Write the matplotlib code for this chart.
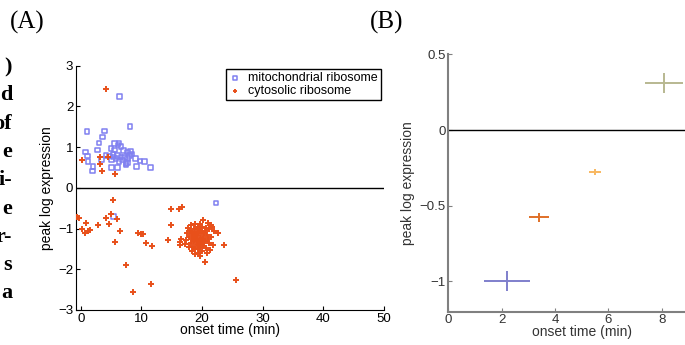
import matplotlib
matplotlib.use('Agg')
import matplotlib.pyplot as plt

plt.rcParams['font.family'] = ['Liberation Sans', 'DejaVu Sans']

# panel A: mitochondrial ribosome genes (onset time, peak log expression)
mito_x = [6.35, 8.1, 1.0, 3.9, 3.6, 3.0, 5.6, 6.3, 6.1, 2.7, 0.8, 1.1, 1.2, 2.0, 1.95, 3.4,
          4.15, 4.7, 5.1, 5.8, 6.3, 6.9, 7.45, 8.0, 8.4, 9.0, 9.75, 10.5, 9.2, 11.45, 5.1, 6.0,
          7.45, 7.7, 5.0, 5.5, 6.6, 7.05, 7.7, 8.2, 5.3, 6.0, 6.6, 7.2, 5.4, 7.7, 5.4, 22.3]
mito_y = [2.24, 1.51, 1.38, 1.40, 1.25, 1.10, 1.09, 1.10, 1.05, 0.93, 0.88, 0.78, 0.65, 0.52, 0.41, 0.70,
          0.80, 0.78, 0.68, 0.72, 0.64, 0.68, 0.60, 0.80, 0.83, 0.72, 0.66, 0.64, 0.53, 0.50, 0.50, 0.50,
          0.56, 0.62, 0.97, 0.93, 1.01, 0.91, 0.88, 0.90, 0.82, 0.80, 0.76, 0.74, 0.76, 0.72, -0.70, -0.37]

# panel A: cytosolic ribosome genes
cyto_x = [4.2, 0.13, 3.2, 4.5, 3.2, 3.55, 5.6,
          5.3, -0.6, -0.3, 0.9, 0.13, 0.74, 1.1, 1.5, 2.8, 4.2, 5.0, 5.9, 4.7, 6.5, 5.6,
          7.5, 8.6, 11.6, 9.5, 9.9, 10.25, 10.7, 11.8, 14.8, 14.8, 14.4, 16.2, 16.7,
          16.3, 16.5, 16.3, 25.6, 22.6,
          18.0, 18.3, 18.6, 18.9, 19.2, 19.5, 19.8, 20.1, 20.4, 20.7, 19.0, 19.3, 19.6, 19.9,
          18.7, 18.4, 18.1, 17.8, 17.5, 17.3, 20.2, 19.7, 19.4, 19.1, 18.8, 18.5, 18.9, 19.5,
          20.0, 20.5, 20.8, 21.1, 21.4, 21.0, 21.7, 22.0, 21.5, 21.2, 21.8, 22.7, 23.6, 20.4,
          20.1, 19.3, 18.2, 17.6, 17.2, 19.7, 20.8, 21.3, 20.6, 19.0, 19.4, 19.8, 18.6, 20.3,
          19.2, 18.8, 17.9, 18.3, 20.9, 19.6, 19.9, 20.0, 18.5, 19.1, 19.7, 20.3, 18.9, 19.4]
cyto_y = [2.42, 0.68, 0.75, 0.75, 0.58, 0.42, 0.33,
          -0.29, -0.71, -0.73, -0.86, -1.0, -1.1, -1.06, -1.03, -0.92, -0.75, -0.65, -0.77, -0.90, -1.06, -1.34,
          -1.90, -2.55, -2.37, -1.10, -1.13, -1.13, -1.35, -1.43, -0.51, -0.92, -1.28, -0.51, -0.47,
          -1.33, -1.26, -1.41, -2.27, -1.10,
          -1.05, -1.12, -1.00, -1.08, -1.15, -1.02, -1.10, -1.20, -1.05, -0.98, -1.25, -1.30, -1.22, -1.35,
          -1.30, -1.25, -1.35, -1.20, -1.10, -1.28, -1.42, -1.45, -1.50, -1.40, -1.50, -1.45, -1.62, -1.60,
          -1.55, -1.30, -1.15, -1.00, -0.92, -0.87, -0.95, -1.05, -1.20, -1.35, -1.40, -1.10, -1.41, -1.82,
          -0.78, -0.95, -0.92, -0.98, -1.38, -1.68, -1.61, -1.53, -1.48, -1.18, -1.12, -1.28, -1.18, -1.12,
          -1.02, -0.90, -1.45, -1.55, -1.25, -0.88, -0.97, -1.40, -1.15, -1.33, -1.05, -1.30, -1.22, -1.38]

# panel B: group means with error extents
grp_x = [2.2, 3.4, 5.5, 8.1]
grp_y = [-1.0, -0.575, -0.275, 0.31]
grp_xerr = [0.85, 0.36, 0.21, 0.71]
grp_yerr = [0.066, 0.03, 0.019, 0.066]
grp_colors = ['#7f7fcc', '#e07028', '#f8b860', '#b8b890']

fig = plt.figure(figsize=(6.85, 3.45), dpi=100)

# ---- panel A
ax = fig.add_axes([76/685, 35/345, 308/685, 244.3/345])
ax.scatter(mito_x, mito_y, marker='s', s=11, facecolors='none', edgecolors='#8080f0',
           linewidths=1.1, label='mitochondrial ribosome', zorder=3)
ax.scatter(cyto_x, cyto_y, marker='+', s=18, c='#e8501a', linewidths=1.4,
           label='cytosolic ribosome', zorder=3)
ax.axhline(0, color='black', lw=1.0)
ax.set_xlim(-0.8, 50)
ax.set_ylim(-3, 3)
ax.set_xticks(range(0, 51, 10))
ax.set_yticks(range(-3, 4))
ax.set_yticklabels(['\u22123', '\u22122', '\u22121', '0', '1', '2', '3'])
ax.tick_params(direction='in', length=3, labelsize=9.5, pad=2)
for s in ['top', 'right']:
    ax.spines[s].set_visible(False)
ax.set_xlabel('onset time (min)', fontsize=10, labelpad=-1)
ax.set_ylabel('peak log expression', fontsize=10, labelpad=3)
leg = ax.legend(loc='upper right', bbox_to_anchor=(0.99, 0.986), borderaxespad=0,
                fancybox=False, edgecolor='black', framealpha=1, fontsize=9,
                handlelength=0.9, handletextpad=0.6, borderpad=0.25, labelspacing=0.05,
                scatterpoints=1, markerscale=0.8)
leg.get_frame().set_linewidth(1.0)

# ---- panel B
bx = fig.add_axes([448.3/685, 33.3/345, 266.7/685, 257.4/345])
for x, y, xe, ye, c in zip(grp_x, grp_y, grp_xerr, grp_yerr, grp_colors):
    bx.errorbar(x, y, xerr=xe, yerr=ye, fmt='none', ecolor=c, elinewidth=1.4, capsize=0)
bx.axhline(0, color='black', lw=1.0)
bx.set_xlim(0, 10)
bx.set_ylim(-1.2, 0.5)
bx.set_xticks([0, 2, 4, 6, 8])
bx.set_yticks([-1, -0.5, 0, 0.5])
bx.set_yticklabels(['\u22121', '\u22120.5', '0', '0.5'])
bx.tick_params(direction='in', length=3, labelsize=9.5, pad=2, color='#808080', labelcolor='#333333')
for s in ['top', 'right']:
    bx.spines[s].set_visible(False)
for s in ['left', 'bottom']:
    bx.spines[s].set_color('#808080')
    bx.spines[s].set_linewidth(1.5)
bx.set_xlabel('onset time (min)', fontsize=10, labelpad=-1, color='#333333')
bx.set_ylabel('peak log expression', fontsize=10, labelpad=3, color='#333333')

# panel letters
fig.text(10/685, 1 - 29/345, '(A)', family='Liberation Serif', fontsize=18)
fig.text(370/685, 1 - 29/345, '(B)', family='Liberation Serif', fontsize=18)

# clipped body text at the left edge
frag = [')', 'd', 'of', 'e', 'i-', 'e', 'r-', 's', 'a']
for i, t in enumerate(frag):
    fig.text(12/685, 1 - (72 + 28.3*i)/345, t, family='Liberation Serif', weight='bold',
             fontsize=16, ha='right', va='baseline')

fig.savefig('out.png', dpi=100)
